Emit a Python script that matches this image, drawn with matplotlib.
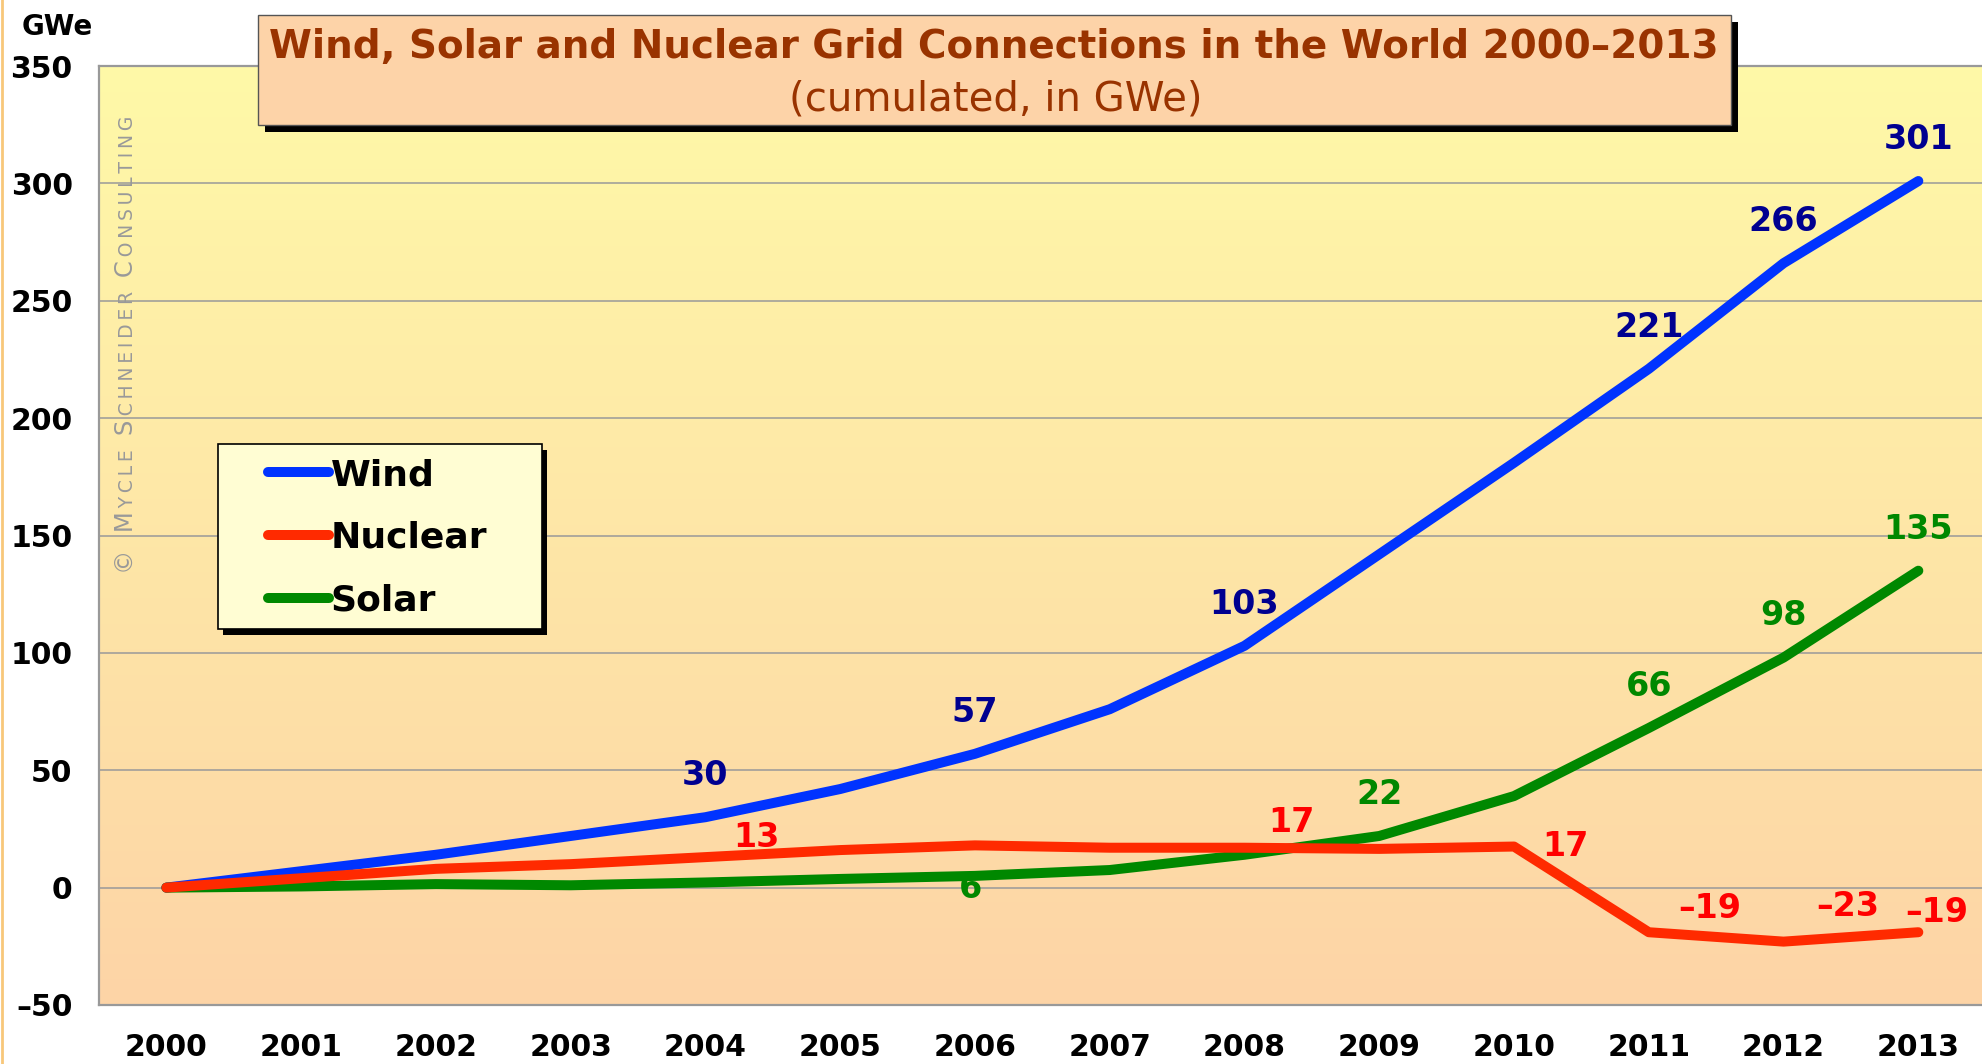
import numpy as np
import matplotlib
matplotlib.use("Agg")
import matplotlib.pyplot as plt
from matplotlib.patches import Rectangle
from matplotlib.lines import Line2D
from matplotlib.colors import LinearSegmentedColormap

# data (GWe, cumulated since 2000)
years = list(range(2000, 2014))
wind = [0, 7, 14, 22, 30, 42, 57, 76, 103, 142, 181, 221, 266, 301]
nuclear = [0, 4, 8, 10, 13, 16, 18, 17, 17, 16.5, 17.5, -19, -23, -19]
solar = [0, 0.5, 1.5, 1, 2.2, 3.7, 5, 7.5, 14, 22, 39, 68, 98, 135]

wind_lab_years = [2004, 2006, 2008, 2011, 2012, 2013]
wind_lab_text = ['30', '57', '103', '221', '266', '301']
nuc_lab_years = [2004, 2008, 2010, 2011, 2012, 2013]
nuc_lab_text = ['13', '17', '17', '–19', '–23', '–19']
sol_lab_years = [2006, 2009, 2011, 2012, 2013]
sol_lab_text = ['6', '22', '66', '98', '135']

yticks = [-50, 0, 50, 100, 150, 200, 250, 300, 350]
ytick_labels = ['–50', '0', '50', '100', '150', '200', '250', '300', '350']

W, H = 1983, 1064
fig = plt.figure(figsize=(W / 100, H / 100), dpi=100, facecolor='white')

def fx(px):
    return px / W

def fy(py):
    return 1 - py / H

ax = fig.add_axes([fx(99), fy(1005), 1 - fx(99), (1005 - 66) / H])

# gradient background
cmap = LinearSegmentedColormap.from_list('bg', ['#FDD4A6', '#FFF9A8'])
grad = np.linspace(0, 1, 256).reshape(-1, 1)
ax.imshow(grad, extent=[0, 1, 0, 1], transform=ax.transAxes, origin='lower',
          aspect='auto', cmap=cmap, zorder=0)

ax.set_xlim(1999.5, 2013.48)
ax.set_ylim(-50, 350)
ax.set_yticks(yticks)
ax.set_yticklabels(ytick_labels)
ax.set_xticks(years)
ax.set_xticklabels([str(y) for y in years])
ax.tick_params(axis='y', length=0, labelsize=21.5, pad=19)
ax.tick_params(axis='x', length=0, labelsize=21.5, pad=20)
for lbl in ax.get_xticklabels() + ax.get_yticklabels():
    lbl.set_fontweight('bold')

ax.grid(axis='y', color='#999999', lw=1.1, zorder=1)
ax.grid(axis='x', visible=False)
for s in ['top', 'bottom', 'left']:
    ax.spines[s].set_color('#999999')
    ax.spines[s].set_linewidth(1.6)
ax.spines['right'].set_visible(False)

lw = 7.2
ax.plot(years, wind, color='#0033FF', lw=lw, solid_capstyle='round',
        solid_joinstyle='round', label='Wind', zorder=3)
ax.plot(years, solar, color='#008800', lw=lw, solid_capstyle='round',
        solid_joinstyle='round', label='Solar', zorder=3)
ax.plot(years, nuclear, color='#FF2A00', lw=lw, solid_capstyle='round',
        solid_joinstyle='round', label='Nuclear', zorder=3)

# data labels
for yr, t in zip(wind_lab_years, wind_lab_text):
    ax.annotate(t, (yr, wind[years.index(yr)]), xytext=(0, 30), textcoords='offset points',
                ha='center', va='center', fontsize=24, fontweight='bold', color='#000090', zorder=4)

nuc_off = [(37, 14), (34, 18), (37, 0), (44, 17), (46, 25), (13, 14)]
for (yr, t), off in zip(zip(nuc_lab_years, nuc_lab_text), nuc_off):
    ax.annotate(t, (yr, nuclear[years.index(yr)]), xytext=off, textcoords='offset points',
                ha='center', va='center', fontsize=24, fontweight='bold', color='#FF0000', zorder=4)

sol_off = [(-3, -9), (0, 30), (0, 30), (0, 30), (0, 30)]
for (yr, t), off in zip(zip(sol_lab_years, sol_lab_text), sol_off):
    ax.annotate(t, (yr, solar[years.index(yr)]), xytext=off, textcoords='offset points',
                ha='center', va='center', fontsize=24, fontweight='bold', color='#008800', zorder=4)

# legend with a boxed shadow
handles, labels = ax.get_legend_handles_labels()
order = [0, 2, 1]
leg = ax.legend([handles[i] for i in order], [labels[i] for i in order],
                frameon=False, loc='center left',
                bbox_to_anchor=(fx(268), fy(538)), bbox_transform=fig.transFigure,
                borderpad=0, borderaxespad=0, handlelength=1.68, handletextpad=0.05,
                labelspacing=0.8, prop=dict(weight='bold', size=26))
leg.set_zorder(10)
ax.add_patch(Rectangle((fx(223), fy(635)), fx(542 - 218), (629 - 444) / H,
                       transform=fig.transFigure, facecolor='black', edgecolor='none',
                       zorder=8, clip_on=False))
ax.add_patch(Rectangle((fx(218), fy(629)), fx(542 - 218), (629 - 444) / H,
                       transform=fig.transFigure, facecolor='#FFFDD3', edgecolor='black',
                       lw=1.2, zorder=9, clip_on=False))

# title box
fig.add_artist(Rectangle((fx(265), fy(132)), fx(1731 - 258), (125 - 15) / H,
                         transform=fig.transFigure, facecolor='black', edgecolor='none', zorder=5))
fig.add_artist(Rectangle((fx(258), fy(125)), fx(1731 - 258), (125 - 15) / H,
                         transform=fig.transFigure, facecolor='#FDD3A8', edgecolor='#555555',
                         lw=1, zorder=6))
fig.text(fx(994), fy(47), 'Wind, Solar and Nuclear Grid Connections in the World 2000–2013',
         ha='center', va='center', fontsize=28, fontweight='bold', color='#993300', zorder=7)
fig.text(fx(996), fy(99), '(cumulated, in GWe)', ha='center', va='center',
         fontsize=29, color='#993300', zorder=7)

fig.text(fx(57), fy(27), 'GWe', ha='center', va='center', fontsize=20, fontweight='bold')

# left edge strip
fig.add_artist(Line2D([0.0008, 0.0008], [0, 1], color='#F8C77A', lw=2))

# watermark in small caps
pieces = [('© M', 17.5), ('YCLE ', 13.5), ('S', 17.5), ('CHNEIDER ', 13.5), ('C', 17.5), ('ONSULTING', 13.5)]
wm_x = fx(133)
prev = None
for txt, sz in pieces:
    s = '\u2009'.join(txt)
    if prev is None:
        prev = ax.annotate(s, (wm_x, fy(574)), xycoords='figure fraction', rotation=90,
                           rotation_mode='anchor', ha='left', va='baseline', fontsize=sz,
                           color='#999999', zorder=2, annotation_clip=False)
    else:
        prev = ax.annotate('\u2009' + s, (wm_x, 1), xycoords=('figure fraction', prev), rotation=90,
                           rotation_mode='anchor', ha='left', va='baseline', fontsize=sz,
                           color='#999999', zorder=2, annotation_clip=False)

fig.savefig('out.png', dpi=100, facecolor='white')
